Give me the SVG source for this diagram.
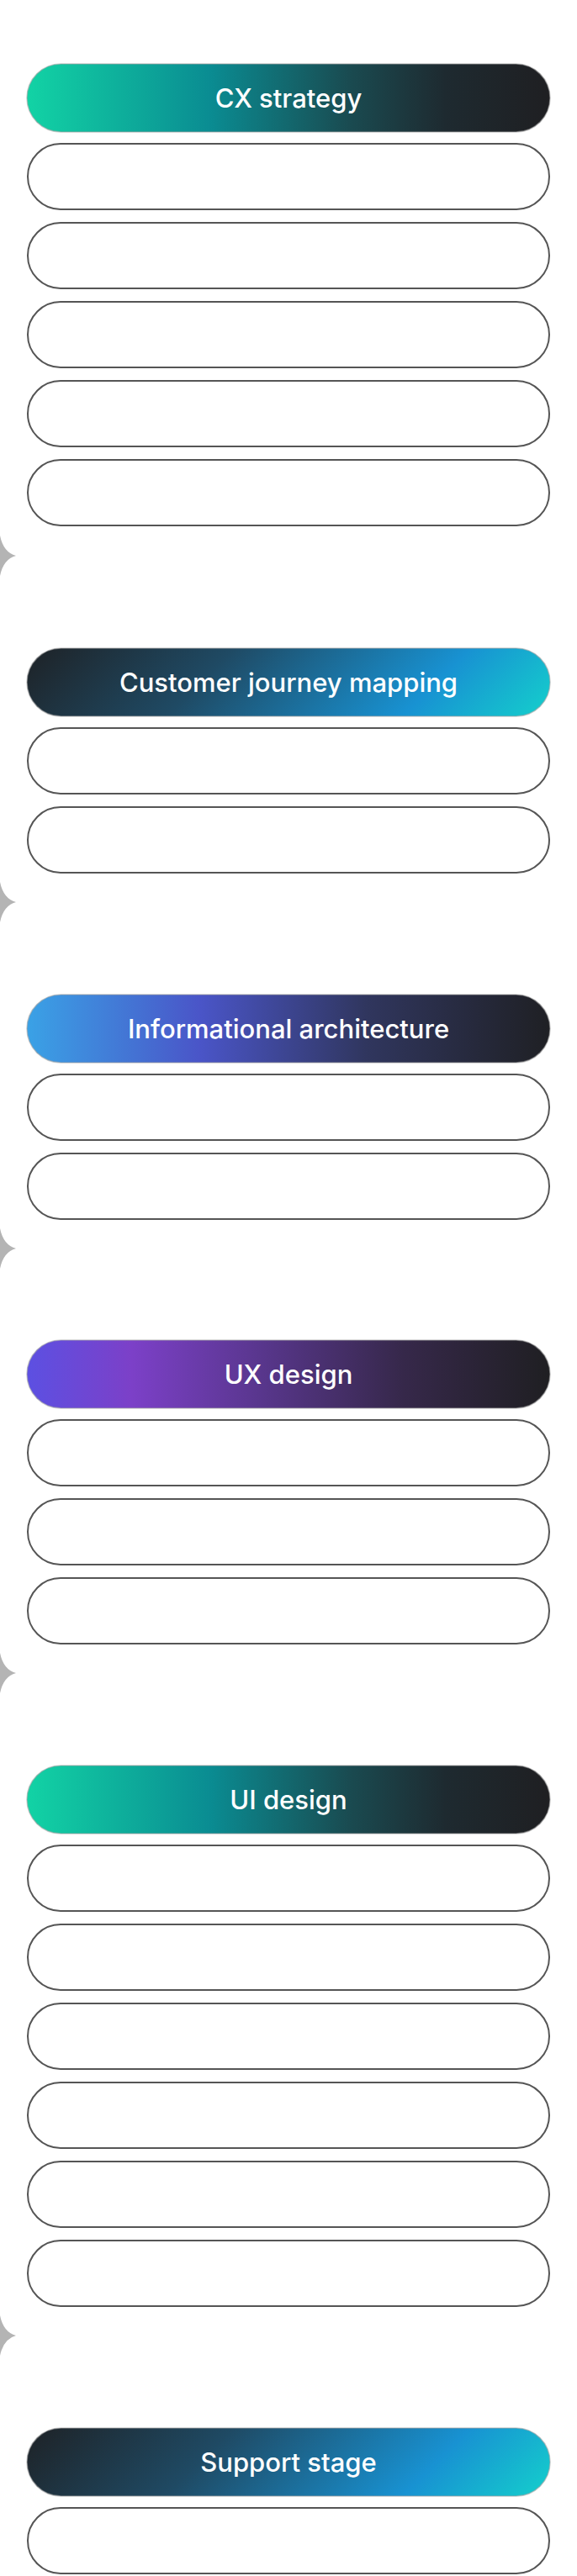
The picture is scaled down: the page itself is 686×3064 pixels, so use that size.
<svg xmlns="http://www.w3.org/2000/svg" width="686" height="3064" viewBox="0 0 686 3064">
<style>
.hdr-stroke{stroke:#a0a0a0;stroke-opacity:0.55;stroke-width:1.5}
.pill{fill:#ffffff;stroke:#555555;stroke-width:2}
.lbl{font-family:"Inter","Open Sans","Liberation Sans",sans-serif;font-size:31px;font-weight:500;fill:#ffffff;text-anchor:middle}
.notch{fill:#b4b4b4}
</style>
<defs>
<linearGradient id="gGreen" x1="0" y1="0" x2="1" y2="0">
<stop offset="0" stop-color="#12d3a5"/>
<stop offset="0.35" stop-color="#0a8c92"/>
<stop offset="0.62" stop-color="#1a4a50"/>
<stop offset="0.8" stop-color="#1e2a30"/>
<stop offset="1" stop-color="#1f1f22"/>
</linearGradient>
<linearGradient id="gBlue1" gradientUnits="userSpaceOnUse" x1="32" y1="771" x2="383.5" y2="1122.5">
<stop offset="0" stop-color="#1e2226"/>
<stop offset="0.35" stop-color="#1f4a64"/>
<stop offset="0.75" stop-color="#1892d2"/>
<stop offset="1" stop-color="#14d0cc"/>
</linearGradient>
<linearGradient id="gBlue2" gradientUnits="userSpaceOnUse" x1="32" y1="2888" x2="383.5" y2="3239.5">
<stop offset="0" stop-color="#1e2226"/>
<stop offset="0.35" stop-color="#1f4a64"/>
<stop offset="0.75" stop-color="#1892d2"/>
<stop offset="1" stop-color="#14d0cc"/>
</linearGradient>
<linearGradient id="gIndigo" x1="0" y1="0" x2="1" y2="0">
<stop offset="0" stop-color="#3aa2e6"/>
<stop offset="0.33" stop-color="#4a55c8"/>
<stop offset="0.65" stop-color="#30365e"/>
<stop offset="1" stop-color="#1f2024"/>
</linearGradient>
<linearGradient id="gPurple" x1="0" y1="0" x2="1" y2="0">
<stop offset="0" stop-color="#5c50e2"/>
<stop offset="0.2" stop-color="#7c40c8"/>
<stop offset="0.45" stop-color="#58368c"/>
<stop offset="0.72" stop-color="#36284a"/>
<stop offset="1" stop-color="#1f1f22"/>
</linearGradient>
</defs>

<g id="connectors">
<path class="notch" d="M0,637 Q4,657 19,661 Q4,665 0,685 Z"/>
<path class="notch" d="M0,1049 Q4,1069 19,1073 Q4,1077 0,1097 Z"/>
<path class="notch" d="M0,1461 Q4,1481 19,1485 Q4,1489 0,1509 Z"/>
<path class="notch" d="M0,1966 Q4,1986 19,1990 Q4,1994 0,2014 Z"/>
<path class="notch" d="M0,2754 Q4,2774 19,2778 Q4,2782 0,2802 Z"/>
</g>

<g id="cx-strategy">
<rect x="32" y="76" width="622" height="81" rx="40.5" fill="url(#gGreen)" class="hdr-stroke"/>
<text class="lbl" x="343" y="128">CX strategy</text>
</g>
<g id="cx-1"><rect class="pill" x="33" y="171" width="620" height="78" rx="39"/></g>
<g id="cx-2"><rect class="pill" x="33" y="265" width="620" height="78" rx="39"/></g>
<g id="cx-3"><rect class="pill" x="33" y="359" width="620" height="78" rx="39"/></g>
<g id="cx-4"><rect class="pill" x="33" y="453" width="620" height="78" rx="39"/></g>
<g id="cx-5"><rect class="pill" x="33" y="547" width="620" height="78" rx="39"/></g>

<g id="customer-journey-mapping">
<rect x="32" y="771" width="622" height="81" rx="40.5" fill="url(#gBlue1)" class="hdr-stroke"/>
<text class="lbl" x="343" y="823">Customer journey mapping</text>
</g>
<g id="cjm-1"><rect class="pill" x="33" y="866" width="620" height="78" rx="39"/></g>
<g id="cjm-2"><rect class="pill" x="33" y="960" width="620" height="78" rx="39"/></g>

<g id="informational-architecture">
<rect x="32" y="1183" width="622" height="81" rx="40.5" fill="url(#gIndigo)" class="hdr-stroke"/>
<text class="lbl" x="343" y="1235">Informational architecture</text>
</g>
<g id="ia-1"><rect class="pill" x="33" y="1278" width="620" height="78" rx="39"/></g>
<g id="ia-2"><rect class="pill" x="33" y="1372" width="620" height="78" rx="39"/></g>

<g id="ux-design">
<rect x="32" y="1594" width="622" height="81" rx="40.5" fill="url(#gPurple)" class="hdr-stroke"/>
<text class="lbl" x="343" y="1646">UX design</text>
</g>
<g id="ux-1"><rect class="pill" x="33" y="1689" width="620" height="78" rx="39"/></g>
<g id="ux-2"><rect class="pill" x="33" y="1783" width="620" height="78" rx="39"/></g>
<g id="ux-3"><rect class="pill" x="33" y="1877" width="620" height="78" rx="39"/></g>

<g id="ui-design">
<rect x="32" y="2100" width="622" height="81" rx="40.5" fill="url(#gGreen)" class="hdr-stroke"/>
<text class="lbl" x="343" y="2152">UI design</text>
</g>
<g id="ui-1"><rect class="pill" x="33" y="2195" width="620" height="78" rx="39"/></g>
<g id="ui-2"><rect class="pill" x="33" y="2289" width="620" height="78" rx="39"/></g>
<g id="ui-3"><rect class="pill" x="33" y="2383" width="620" height="78" rx="39"/></g>
<g id="ui-4"><rect class="pill" x="33" y="2477" width="620" height="78" rx="39"/></g>
<g id="ui-5"><rect class="pill" x="33" y="2571" width="620" height="78" rx="39"/></g>
<g id="ui-6"><rect class="pill" x="33" y="2665" width="620" height="78" rx="39"/></g>

<g id="support-stage">
<rect x="32" y="2888" width="622" height="81" rx="40.5" fill="url(#gBlue2)" class="hdr-stroke"/>
<text class="lbl" x="343" y="2940">Support stage</text>
</g>
<g id="support-1"><rect class="pill" x="33" y="2983" width="620" height="78" rx="39"/></g>
</svg>
